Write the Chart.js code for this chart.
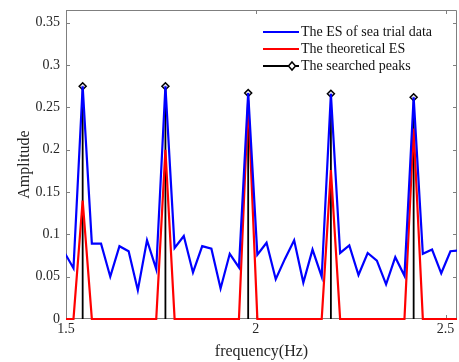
<!DOCTYPE html>
<html>
<head>
<meta charset="utf-8">
<script src="https://cdn.jsdelivr.net/npm/chart.js@4"></script>
<style>
  body { margin: 0; background: #fff; }
  #wrap { width: 459px; height: 362px; }
</style>
</head>
<body>
<div id="wrap"><canvas id="esChart"></canvas></div>
<script>
// frequency bins (Hz)
const freqs = [1.4955, 1.5197, 1.5439, 1.5681, 1.5923, 1.6166, 1.6408, 1.6650, 1.6892, 1.7134,
               1.7377, 1.7619, 1.7861, 1.8103, 1.8345, 1.8588, 1.8830, 1.9072, 1.9314, 1.9556,
               1.9799, 2.0041, 2.0283, 2.0525, 2.0767, 2.1010, 2.1252, 2.1494, 2.1736, 2.1978,
               2.2221, 2.2463, 2.2705, 2.2947, 2.3189, 2.3432, 2.3674, 2.3916, 2.4158, 2.4400,
               2.4643, 2.4885, 2.5127, 2.5381];
// ES of sea trial data
const seaTrial = [0.079, 0.060, 0.275, 0.089, 0.089, 0.050, 0.086, 0.080, 0.034, 0.093,
                  0.059, 0.275, 0.084, 0.098, 0.055, 0.086, 0.083, 0.036, 0.077, 0.061,
                  0.267, 0.076, 0.090, 0.047, 0.071, 0.093, 0.043, 0.082, 0.050, 0.266,
                  0.078, 0.087, 0.052, 0.078, 0.069, 0.041, 0.073, 0.051, 0.262, 0.077,
                  0.082, 0.054, 0.080, 0.081];
// theoretical ES
const theoretical = [0, 0, 0.140, 0, 0, 0, 0, 0, 0, 0,
                     0, 0.200, 0, 0, 0, 0, 0, 0, 0, 0,
                     0.258, 0, 0, 0, 0, 0, 0, 0, 0, 0.176,
                     0, 0, 0, 0, 0, 0, 0, 0, 0.225, 0,
                     0, 0, 0, 0];
// searched peaks
const peakFreqs = [1.5439, 1.7619, 1.9799, 2.1978, 2.4158];
const peakAmps = [0.275, 0.275, 0.267, 0.266, 0.262];

const xTicks = [1.5, 2, 2.5];
const yTicks = [0, 0.05, 0.1, 0.15, 0.2, 0.25, 0.3, 0.35];
const labels = ["The ES of sea trial data", "The theoretical ES", "The searched peaks"];

function toPoints(xs, ys) {
  return xs.map(function (x, i) { return { x: x, y: ys[i] }; });
}

// stems: bottom, top, gap for each peak
const stemPoints = [];
peakFreqs.forEach(function (f, i) {
  stemPoints.push({ x: f, y: 0 });
  stemPoints.push({ x: f, y: peakAmps[i] });
  stemPoints.push({ x: f, y: null });
});

const serif = "'Liberation Serif', 'Times New Roman', serif";
const axisGray = "#7f7f7f";
const areaClip = { left: 0, top: 0, right: 0, bottom: 3 };

// matlab style box with inward ticks
const boxTicks = {
  id: 'boxTicks',
  beforeDatasetsDraw(chart) {
    const ctx = chart.ctx, a = chart.chartArea;
    const xs = chart.scales.x, ys = chart.scales.y;
    ctx.save();
    ctx.strokeStyle = axisGray;
    ctx.lineWidth = 1;
    ctx.beginPath();
    ctx.rect(Math.round(a.left) + 0.5, Math.round(a.top) + 0.5,
             Math.round(a.right - a.left) - 1, Math.round(a.bottom - a.top) - 1);
    xs.ticks.forEach(function (t) {
      const px = Math.round(xs.getPixelForValue(t.value)) + 0.5;
      ctx.moveTo(px, a.bottom); ctx.lineTo(px, a.bottom - 4);
      ctx.moveTo(px, a.top); ctx.lineTo(px, a.top + 4);
    });
    ys.ticks.forEach(function (t) {
      const py = Math.round(ys.getPixelForValue(t.value)) + 0.5;
      ctx.moveTo(a.left, py); ctx.lineTo(a.left + 4, py);
      ctx.moveTo(a.right, py); ctx.lineTo(a.right - 4, py);
    });
    ctx.stroke();
    ctx.restore();
  },
  afterDraw(chart) {
    const ctx = chart.ctx;
    const rows = [32, 49, 66];
    ctx.save();
    ctx.font = "14px " + serif;
    ctx.textBaseline = "middle";
    chart.data.datasets.forEach(function (ds, i) {
      const y = rows[i];
      ctx.strokeStyle = ds.borderColor;
      ctx.lineWidth = ds.borderWidth;
      ctx.beginPath();
      ctx.moveTo(263, y); ctx.lineTo(299, y);
      ctx.stroke();
      if (i === 2) {
        ctx.fillStyle = "#fff";
        ctx.lineWidth = 1.5;
        ctx.beginPath();
        ctx.moveTo(292, y - 4); ctx.lineTo(295.5, y); ctx.lineTo(292, y + 4); ctx.lineTo(288.5, y);
        ctx.closePath();
        ctx.fill(); ctx.stroke();
      }
      ctx.fillStyle = "#111";
      ctx.fillText(ds.label, 301, y);
    });
    ctx.restore();
  }
};

const ctx = document.getElementById("esChart").getContext("2d");
const chart = new Chart(ctx, {
  type: 'line',
  data: {
    datasets: [
      {
        label: labels[0],
        data: toPoints(freqs, seaTrial),
        borderColor: "#0000ff",
        borderWidth: 2.2,
        pointRadius: 0,
        tension: 0,
        clip: areaClip
      },
      {
        label: labels[1],
        data: toPoints(freqs, theoretical),
        borderColor: "#ff0000",
        borderWidth: 2.2,
        pointRadius: 0,
        tension: 0,
        clip: areaClip
      },
      {
        label: labels[2],
        data: stemPoints,
        borderColor: "#000000",
        borderWidth: 1.8,
        spanGaps: false,
        pointStyle: 'rectRot',
        pointRadius: function (c) { return c.raw && c.raw.y > 0 ? 3.5 : 0; },
        pointBackgroundColor: "#dde",
        pointBorderColor: "#000",
        pointBorderWidth: 1.5,
        tension: 0,
        clip: areaClip
      }
    ]
  },
  options: {
    responsive: true,
    maintainAspectRatio: false,
    animation: false,
    layout: { padding: { top: 10, right: 2, left: 0, bottom: 0 } },
    plugins: {
      legend: { display: false },
      tooltip: { enabled: false }
    },
    scales: {
      x: {
        type: 'linear',
        min: 1.5,
        max: 2.53,
        afterBuildTicks: function (s) { s.ticks = xTicks.map(function (v) { return { value: v }; }); },
        afterFit: function (s) { s.height = 43; s.paddingLeft = 0; s.paddingRight = 0; },
        grid: { display: false, drawTicks: false },
        border: { display: false },
        ticks: {
          padding: 2,
          color: "#262626",
          font: { family: serif, size: 14 },
          maxRotation: 0,
          callback: function (v) { return String(v); }
        },
        title: {
          display: true,
          text: "frequency(Hz)",
          color: "#262626",
          font: { family: serif, size: 16 },
          padding: { top: 0, bottom: 1 }
        }
      },
      y: {
        min: 0,
        max: 0.365,
        afterBuildTicks: function (s) { s.ticks = yTicks.map(function (v) { return { value: v }; }); },
        afterFit: function (s) { s.width = 66; s.paddingTop = 0; s.paddingBottom = 0; },
        grid: { display: false, drawTicks: false },
        border: { display: false },
        ticks: {
          padding: 6,
          color: "#262626",
          font: { family: serif, size: 14 },
          callback: function (v) { return String(v); }
        },
        title: {
          display: true,
          text: "Amplitude",
          color: "#262626",
          font: { family: serif, size: 16 },
          padding: { top: 15, bottom: 0 }
        }
      }
    }
  },
  plugins: [boxTicks]
});
</script>
</body>
</html>
